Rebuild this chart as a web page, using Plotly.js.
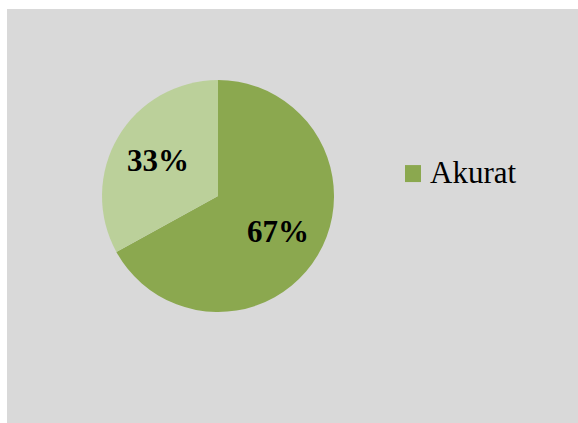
<!DOCTYPE html>
<html>
<head>
<meta charset="utf-8">
<script src="https://cdn.plot.ly/plotly-3.0.1.min.js"></script>
<style>
html,body{margin:0;padding:0;background:#ffffff;width:578px;height:423px;overflow:hidden;}
#chart{position:absolute;left:7px;top:9px;width:571px;height:414px;}
</style>
</head>
<body>
<div id="chart"></div>
<script>
var labels = ["Akurat", "Tidak Akurat"];
var values = [67, 33];
var colors = ["#8BA84F", "#BBD09A"];
var legendLabels = ["Akurat"];

var W = 571, H = 414;
var dom = {x: [0.1664, 0.5727], y: [0.268, 0.8285]};
var radius = (dom.x[1] - dom.x[0]) * W / 2;
var cx = (dom.x[0] + dom.x[1]) / 2, cy = (dom.y[0] + dom.y[1]) / 2;

var trace = {
  type: "pie",
  labels: labels,
  values: values,
  sort: false,
  direction: "clockwise",
  rotation: 0,
  marker: {colors: colors, line: {width: 0}},
  textinfo: "none",
  hoverinfo: "none",
  showlegend: false,
  domain: dom
};

// percentage labels placed along each slice's bisector
var total = values.reduce(function(a, b) { return a + b; }, 0);
var annotations = [];
var acc = 0;
values.forEach(function(v) {
  var mid = (acc + v / 2) / total * 2 * Math.PI;
  acc += v;
  var r = 0.6 * radius;
  annotations.push({
    text: "<b>" + Math.round(v / total * 100) + "%</b>",
    xref: "paper", yref: "paper", x: cx, y: cy,
    xshift: r * Math.sin(mid), yshift: r * Math.cos(mid),
    xanchor: "center", yanchor: "middle", showarrow: false,
    font: {family: "Liberation Serif", size: 31, color: "#000000"}
  });
});
annotations.push({
  text: legendLabels[0], xref: "paper", yref: "paper",
  x: 0.737, y: 0.604, xanchor: "left", yanchor: "middle",
  showarrow: false,
  font: {family: "Liberation Serif", size: 31, color: "#000000"}
});

var layout = {
  width: W,
  height: H,
  margin: {l: 0, r: 0, t: 0, b: 0},
  paper_bgcolor: "#D9D9D9",
  plot_bgcolor: "#D9D9D9",
  showlegend: false,
  shapes: [{
    type: "rect", xref: "paper", yref: "paper",
    x0: 0.697, x1: 0.725, y0: 0.582, y1: 0.623,
    fillcolor: colors[0], line: {width: 0}
  }],
  annotations: annotations
};

Plotly.newPlot("chart", [trace], layout, {displayModeBar: false, staticPlot: true});
</script>
</body>
</html>
